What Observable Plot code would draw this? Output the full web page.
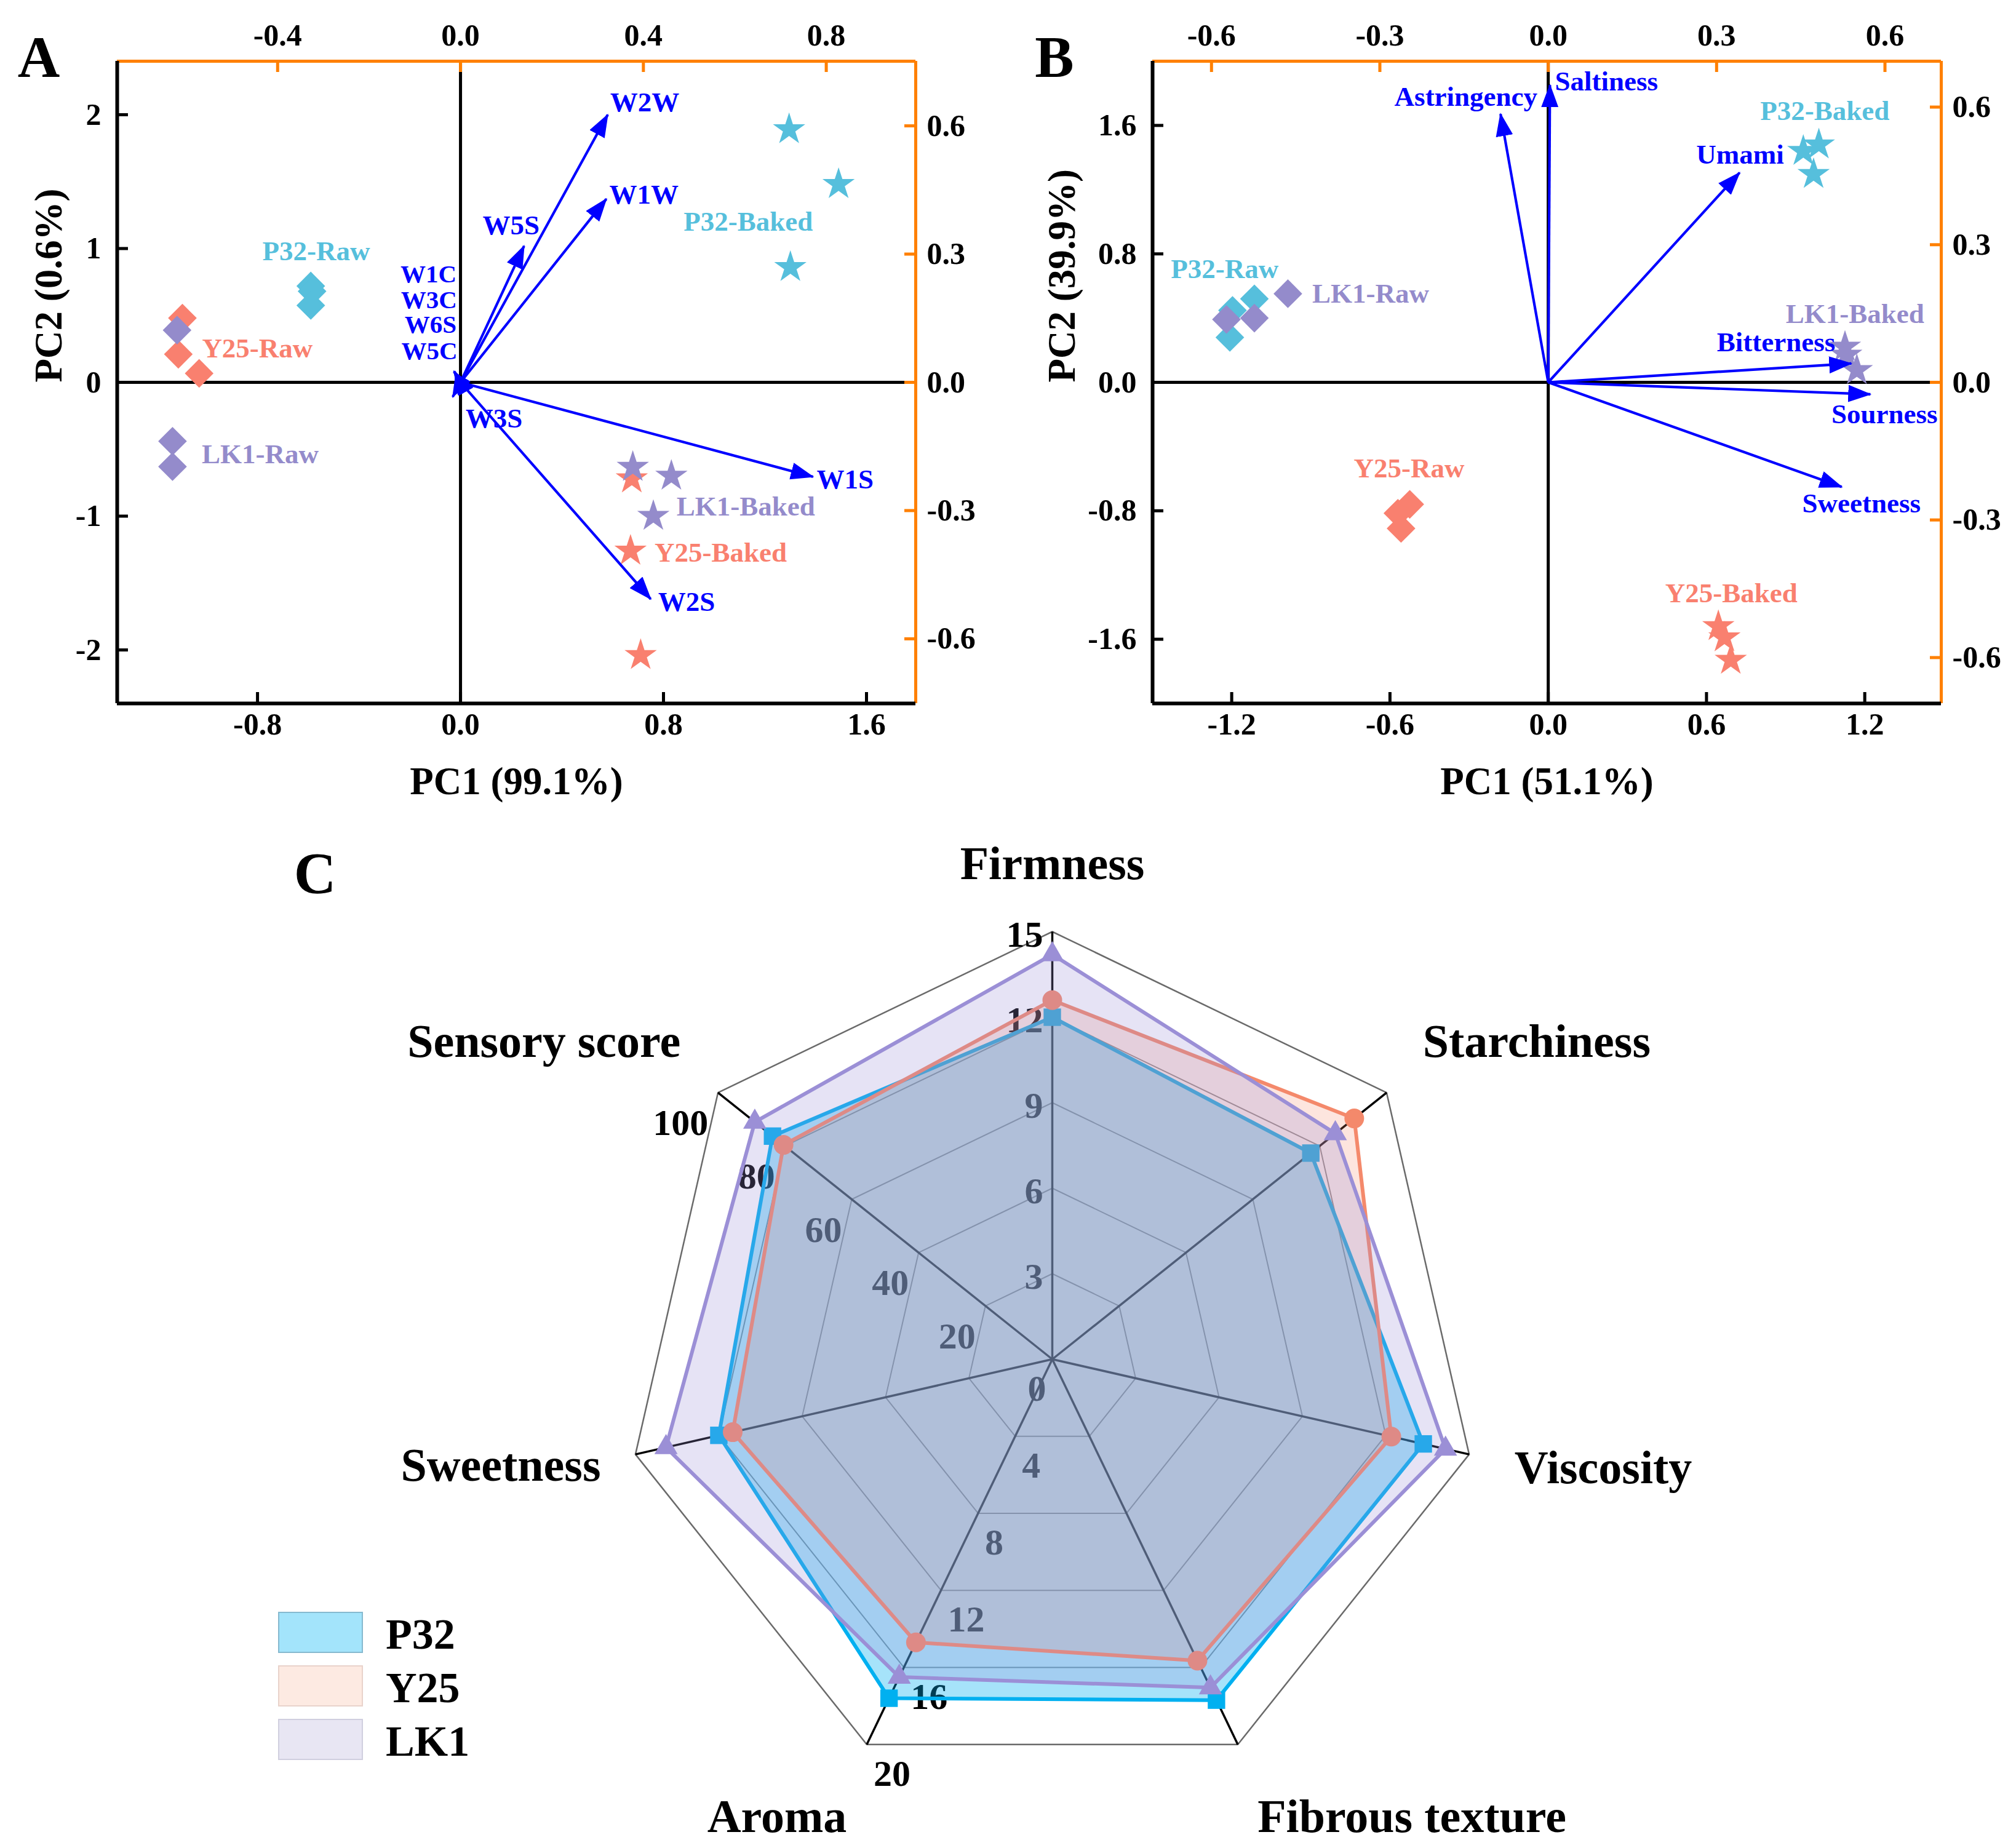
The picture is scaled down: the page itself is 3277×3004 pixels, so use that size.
<!DOCTYPE html>
<html>
<head>
<meta charset="utf-8">
<script src="https://cdn.jsdelivr.net/npm/d3@7"></script>
<script src="https://cdn.jsdelivr.net/npm/@observablehq/plot@0.6"></script>
<style>
  html, body { margin: 0; padding: 0; background: #fff; }
  #fig { position: relative; width: 3277px; height: 3004px; overflow: hidden;
         font-family: "Liberation Serif", "Times New Roman", serif; font-weight: bold; color: #000; }
  .panel { position: absolute; }
  .panel svg { max-width: none !important; background: transparent !important; overflow: visible; }
  .letter { position: absolute; width: 200px; text-align: center; font-size: 95px; line-height: 1; }
  .lgbox { position: absolute; width: 134px; height: 63px; border: 2px solid; }
  .lgtext { position: absolute; font-size: 70px; line-height: 1; }
</style>
</head>
<body>
<div id="fig"></div>
<script>
// ===================== DATA =====================
// Panel A – E-nose PCA scores (PC1, PC2)
const aSample = ["P32-Raw","P32-Raw","P32-Raw","Y25-Raw","Y25-Raw","Y25-Raw","LK1-Raw","LK1-Raw","LK1-Raw",
                 "P32-Baked","P32-Baked","P32-Baked","Y25-Baked","Y25-Baked","Y25-Baked","LK1-Baked","LK1-Baked","LK1-Baked"];
const aPC1 = [-0.59,-0.585,-0.59, -1.096,-1.112,-1.03, -1.117,-1.135,-1.135,
              1.295,1.49,1.30, 0.675,0.67,0.71, 0.679,0.831,0.76];
const aPC2 = [0.72,0.68,0.575, 0.48,0.21,0.067, 0.39,-0.44,-0.63,
              1.89,1.48,0.86, -0.72,-1.26,-2.04, -0.634,-0.70,-1.0];
// Panel A – sensor loadings (top / right axis units)
const aSensor = ["W1C","W3C","W6S","W5C","W3S","W5S","W1W","W2W","W1S","W2S"];
const aLoad1  = [-0.014,-0.013,-0.014,-0.012,-0.017,0.139,0.319,0.322,0.771,0.416];
const aLoad2  = [0.025,0.024,0.026,0.023,-0.034,0.319,0.429,0.626,-0.221,-0.507];
const aXTicks = [-0.8, 0, 0.8, 1.6];
const aYTicks = [-2, -1, 0, 1, 2];
const aTopTicks = [-0.4, 0, 0.4, 0.8];
const aRightTicks = [-0.6, -0.3, 0, 0.3, 0.6];

// Panel B – E-tongue PCA scores
const bSample = ["P32-Raw","P32-Raw","P32-Raw","Y25-Raw","Y25-Raw","Y25-Raw","LK1-Raw","LK1-Raw","LK1-Raw",
                 "P32-Baked","P32-Baked","P32-Baked","Y25-Baked","Y25-Baked","Y25-Baked","LK1-Baked","LK1-Baked","LK1-Baked"];
const bPC1 = [-1.114,-1.197,-1.207, -0.525,-0.57,-0.558, -1.22,-1.114,-0.987,
              0.967,1.026,1.006, 0.645,0.668,0.692, 1.125,1.13,1.17];
const bPC2 = [0.52,0.448,0.28, -0.76,-0.815,-0.91, 0.392,0.40,0.552,
              1.44,1.48,1.296, -1.52,-1.59,-1.73, 0.22,0.17,0.075];
const bTaste = ["Saltiness","Astringency","Umami","Bitterness","Sourness","Sweetness"];
const bLoad1 = [0.003,-0.085,0.341,0.540,0.574,0.523];
const bLoad2 = [0.648,0.585,0.457,0.041,-0.026,-0.228];
const bXTicks = [-1.2, -0.6, 0, 0.6, 1.2];
const bYTicks = [-1.6, -0.8, 0, 0.8, 1.6];
const bTopTicks = [-0.6, -0.3, 0, 0.3, 0.6];
const bRightTicks = [-0.6, -0.3, 0, 0.3, 0.6];

// Panel C – sensory radar
const cAxes = ["Firmness","Starchiness","Viscosity","Fibrous texture","Aroma","Sweetness","Sensory score"];
const cAxisMax = [15, 15, 15, 20, 20, 15, 100];
const cSeries = ["P32","Y25","LK1"];
const cP32 = [12.0, 11.6, 13.35, 17.7, 17.6, 12.0, 83.7];
const cY25 = [12.6, 13.55, 12.2, 15.65, 14.7, 11.5, 80.4];
const cLK1 = [14.2, 12.7, 14.15, 17.05, 16.5, 13.9, 89.0];
const cFirmTicks = [3, 6, 9, 12, 15];
const cAromaTicks = [4, 8, 12, 16, 20];
const cSensoryTicks = [20, 40, 60, 80, 100];
const cRings = [0.2, 0.4, 0.6, 0.8, 1.0];

// ===================== STYLE / LAYOUT =====================
const ORANGE = "#ff8000", BLUE = "#0000ff";
const cultColor = {P32: "#56bfdc", Y25: "#f9806f", LK1: "#948bcb"};
const seriesStyle = {
  P32: {color: "#00b0f0", op: 0.35, symbol: "square", r: 16},
  Y25: {color: "#f4896b", op: 0.22, symbol: "circle", r: 16},
  LK1: {color: "#9b8fd6", op: 0.25, symbol: "triangle", r: 14}
};
const FONT = "'Liberation Serif', 'Times New Roman', serif";
const fmt1 = v => (v < 0 ? "-" : "") + Math.abs(v).toFixed(1);
const fmt0 = v => (v < 0 ? "-" : "") + Math.abs(v).toFixed(0);

// label offsets (px) relative to group centroid / arrow tip: [dx, dy, anchor, fontSize]
const aGroupLabel = {
  "P32-Raw": [8, -70, "middle"], "Y25-Raw": [25, 0, "start"], "LK1-Raw": [45, 68, "start"],
  "P32-Baked": [-94, 46, "middle"], "LK1-Baked": [39, 33, "start"], "Y25-Baked": [33, -14, "start"]
};
const aArrowLabel = {
  W1C: [4, -158, "end", 41], W3C: [4, -117, "end", 41], W6S: [4, -76, "end", 41], W5C: [4, -35, "end", 41],
  W3S: [67, 35, "middle"], W5S: [-21, -33, "middle"], W1W: [5, -7, "start"], W2W: [4, -20, "start"],
  W1S: [6, 5, "start"], W2S: [12, 5, "start"]
};
const bGroupLabel = {
  "P32-Raw": [-23, -75, "middle"], "LK1-Raw": [91, -27, "start"], "Y25-Raw": [10, -76, "middle"],
  "P32-Baked": [21, -74, "middle"], "LK1-Baked": [9, -70, "middle"], "Y25-Baked": [11, -78, "middle"]
};
const bArrowLabel = {
  Saltiness: [8, -6, "start"], Astringency: [60, -28, "end"], Umami: [72, -29, "end"],
  Bitterness: [-26, -34, "end"], Sourness: [23, 33, "middle"], Sweetness: [32, 27, "middle"]
};

const fig = document.getElementById("fig");

function addHeads(svg, id) {
  const s = d3.select(svg);
  const defs = s.insert("defs", ":first-child");
  defs.append("marker").attr("id", id)
    .attr("viewBox", "0 0 38 28").attr("refX", 36).attr("refY", 14)
    .attr("markerWidth", 38).attr("markerHeight", 28)
    .attr("markerUnits", "userSpaceOnUse").attr("orient", "auto")
    .append("path").attr("d", "M0,0L38,14L0,28Z").attr("fill", BLUE);
  s.selectAll('g[aria-label="link"] path').attr("marker-end", `url(#${id})`);
}

function pcaPanel(o) {
  const pw = o.width - o.ml - o.mr, ph = o.height - o.mt - o.mb;
  const ux = (o.xDom[1] - o.xDom[0]) / pw, uy = (o.yDom[1] - o.yDom[0]) / ph;
  const T = 18;
  const rows = o.sample.map((s, i) => ({sample: s, cult: s.split("-")[0], state: s.split("-")[1], x: o.pc1[i], y: o.pc2[i]}));
  const arrows = o.vars.map((v, i) => ({v, x: o.load1[i] / o.kx, y: o.load2[i] / o.ky}));
  const groups = d3.groups(rows, d => d.sample).map(([s, g]) => ({s, cult: g[0].cult, x: d3.mean(g, d => d.x), y: d3.mean(g, d => d.y)}));

  const marks = [
    Plot.ruleY([0], {stroke: "#000", strokeWidth: 5}),
    Plot.ruleX([0], {stroke: "#000", strokeWidth: 5}),
    Plot.ruleY([o.yDom[1]], {stroke: ORANGE, strokeWidth: 5}),
    Plot.ruleX([o.xDom[1]], {stroke: ORANGE, strokeWidth: 5}),
    Plot.ruleX([o.xDom[0]], {stroke: "#000", strokeWidth: 6}),
    Plot.ruleY([o.yDom[0]], {stroke: "#000", strokeWidth: 6}),
    Plot.ruleX(o.xTicks, {x: d => d, y1: () => o.yDom[0], y2: () => o.yDom[0] + T * uy, stroke: "#000", strokeWidth: 5}),
    Plot.ruleY(o.yTicks, {y: d => d, x1: () => o.xDom[0], x2: () => o.xDom[0] + T * ux, stroke: "#000", strokeWidth: 5}),
    Plot.ruleX(o.topTicks, {x: d => d / o.kx, y1: () => o.yDom[1], y2: () => o.yDom[1] - T * uy, stroke: ORANGE, strokeWidth: 5}),
    Plot.ruleY(o.rightTicks, {y: d => d / o.ky, x1: () => o.xDom[1], x2: () => o.xDom[1] - T * ux, stroke: ORANGE, strokeWidth: 5}),
    Plot.text(o.xTicks, {x: d => d, text: d => fmt1(d), frameAnchor: "bottom", dy: 50, fontSize: 50, fill: "#000"}),
    Plot.text(o.yTicks, {y: d => d, text: d => o.yFmt(d), frameAnchor: "left", textAnchor: "end", dx: -26, fontSize: 50, fill: "#000"}),
    Plot.text(o.topTicks, {x: d => d / o.kx, text: d => fmt1(d), frameAnchor: "top", dy: -61, fontSize: 50, fill: "#000"}),
    Plot.text(o.rightTicks, {y: d => d / o.ky, text: d => fmt1(d), frameAnchor: "right", textAnchor: "start", dx: 18, fontSize: 50, fill: "#000"}),
    Plot.text([o.xTitle], {frameAnchor: "bottom", dy: 147, fontSize: 63, fill: "#000"}),
    Plot.text([o.yTitle], {frameAnchor: "left", dx: o.yTitleDx, rotate: -90, fontSize: 63, fill: "#000"}),
    Plot.dot(rows.filter(d => d.state === "Raw"), {x: "x", y: "y", symbol: "diamond2", r: 21, fill: d => cultColor[d.cult]}),
    Plot.dot(rows.filter(d => d.state === "Baked"), {x: "x", y: "y", symbol: "star", r: 16.5, fill: d => cultColor[d.cult]}),
    Plot.link(arrows, {x1: () => 0, y1: () => 0, x2: "x", y2: "y", stroke: BLUE, strokeWidth: 4.2})
  ];
  for (const g of groups) {
    const [dx, dy, anchor] = o.groupLabel[g.s];
    marks.push(Plot.text([g], {x: "x", y: "y", text: "s", dx, dy, textAnchor: anchor, fontSize: 45, fill: cultColor[g.cult]}));
  }
  for (const a of arrows) {
    const [dx, dy, anchor, fs] = o.arrowLabel[a.v];
    marks.push(Plot.text([a], {x: "x", y: "y", text: "v", dx, dy, textAnchor: anchor, fontSize: fs || 45, fill: BLUE}));
  }
  const svg = Plot.plot({
    width: o.width, height: o.height,
    marginLeft: o.ml, marginRight: o.mr, marginTop: o.mt, marginBottom: o.mb,
    x: {domain: o.xDom, axis: null}, y: {domain: o.yDom, axis: null},
    color: {type: "identity"},
    style: {fontFamily: FONT, fontWeight: "bold", background: "transparent", overflow: "visible"},
    marks
  });
  addHeads(svg, o.id);
  const div = document.createElement("div");
  div.className = "panel";
  div.style.left = o.left + "px"; div.style.top = o.top + "px";
  div.style.width = o.width + "px"; div.style.height = o.height + "px";
  div.appendChild(svg);
  fig.appendChild(div);
}

pcaPanel({
  id: "headA", left: 0, top: 0, width: 1640, height: 1340, ml: 190, mr: 152, mt: 99, mb: 197,
  xDom: [-1.353, 1.794], yDom: [-2.4, 2.4], kx: 0.555, ky: 0.313,
  sample: aSample, pc1: aPC1, pc2: aPC2, vars: aSensor, load1: aLoad1, load2: aLoad2,
  xTicks: aXTicks, yTicks: aYTicks, topTicks: aTopTicks, rightTicks: aRightTicks, yFmt: fmt0,
  xTitle: "PC1 (99.1%)", yTitle: "PC2 (0.6%)", yTitleDx: -111,
  groupLabel: aGroupLabel, arrowLabel: aArrowLabel
});

pcaPanel({
  id: "headB", left: 1660, top: 0, width: 1617, height: 1340, ml: 213, mr: 122, mt: 99, mb: 197,
  xDom: [-1.5, 1.49], yDom: [-2.0, 2.0], kx: 0.47, ky: 0.35,
  sample: bSample, pc1: bPC1, pc2: bPC2, vars: bTaste, load1: bLoad1, load2: bLoad2,
  xTicks: bXTicks, yTicks: bYTicks, topTicks: bTopTicks, rightTicks: bRightTicks, yFmt: fmt1,
  xTitle: "PC1 (51.1%)", yTitle: "PC2 (39.9%)", yTitleDx: -147,
  groupLabel: bGroupLabel, arrowLabel: bArrowLabel
});

// ===================== PANEL C (radar) =====================
(function () {
  const R = 695, CW = 3277, CH = 1664, cx0 = 1710, cy0 = 2209 - 1340;
  const xDom = [-cx0 / R, (CW - cx0) / R], yDom = [-(CH - cy0) / R, cy0 / R];
  const n = cAxes.length;
  const ang = i => i * 2 * Math.PI / n;
  const pt = (i, f) => ({x: f * Math.sin(ang(i)), y: f * Math.cos(ang(i))});
  const rings = cRings.flatMap(f => cAxes.map((a, i) => ({f, ...pt(i, f)})));
  const spokes = cAxes.map((a, i) => ({a, ...pt(i, 1)}));
  const values = {P32: cP32, Y25: cY25, LK1: cLK1};
  const labelOff = {
    "Firmness": [0, -110], "Starchiness": [244, -83], "Viscosity": [218, 23], "Fibrous texture": [283, 118],
    "Aroma": [-146, 118], "Sweetness": [-219, 19], "Sensory score": [-283, -83]
  };
  const marks = [
    Plot.line(rings.filter(d => d.f < 1), {x: "x", y: "y", z: "f", curve: "linear-closed", stroke: "#8a8a8a", strokeWidth: 2}),
    Plot.line(rings.filter(d => d.f === 1), {x: "x", y: "y", curve: "linear-closed", stroke: "#6a6a6a", strokeWidth: 2.5}),
    Plot.link(spokes, {x1: () => 0, y1: () => 0, x2: "x", y2: "y", stroke: "#000", strokeWidth: 3.5}),
    Plot.text(cFirmTicks, {x: v => pt(0, v / cAxisMax[0]).x, y: v => pt(0, v / cAxisMax[0]).y, text: d => String(d), textAnchor: "end", dx: -15, dy: 5, fontSize: 60, fill: "#000"}),
    Plot.text(cAromaTicks, {x: v => pt(4, v / cAxisMax[4]).x, y: v => pt(4, v / cAxisMax[4]).y, text: d => String(d), textAnchor: "start", dx: 11, dy: 48, fontSize: 60, fill: "#000"}),
    Plot.text(cSensoryTicks, {x: v => pt(6, v / cAxisMax[6]).x, y: v => pt(6, v / cAxisMax[6]).y, text: d => String(d), textAnchor: "end", dx: -16, dy: 50, fontSize: 60, fill: "#000"}),
    Plot.text([0], {x: () => 0, y: () => 0, text: d => String(d), dx: -25, dy: 48, fontSize: 60, fill: "#000"})
  ];
  for (const s of cSeries) {
    const st = seriesStyle[s];
    const pts = cAxes.map((a, i) => ({s, ...pt(i, values[s][i] / cAxisMax[i])}));
    marks.push(Plot.line(pts, {x: "x", y: "y", curve: "linear-closed", fill: st.color, fillOpacity: st.op, stroke: st.color, strokeWidth: 6}));
    marks.push(Plot.dot(pts, {x: "x", y: "y", symbol: st.symbol, r: st.r, fill: st.color}));
  }
  marks.push(Plot.text(spokes, {
    x: d => d.x + labelOff[d.a][0] / R, y: d => d.y - labelOff[d.a][1] / R,
    text: "a", fontSize: 76, fill: "#000"
  }));
  const svg = Plot.plot({
    width: CW, height: CH, margin: 0,
    x: {domain: xDom, axis: null}, y: {domain: yDom, axis: null},
    style: {fontFamily: FONT, fontWeight: "bold", background: "transparent", overflow: "visible"},
    marks
  });
  const div = document.createElement("div");
  div.className = "panel";
  div.style.left = "0px"; div.style.top = "1340px";
  div.style.width = CW + "px"; div.style.height = CH + "px";
  div.appendChild(svg);
  fig.appendChild(div);
})();

// ===================== LETTERS & LEGEND =====================
const letters = [["A", 63, 94], ["B", 1714, 94], ["C", 512, 1421]];
for (const [t, x, y] of letters) {
  const d = document.createElement("div");
  d.className = "letter"; d.textContent = t;
  d.style.left = (x - 100) + "px"; d.style.top = (y - 48) + "px";
  fig.appendChild(d);
}
const legendFill = {P32: ["#a3e4fb", "#86b9cf"], Y25: ["#fdeae2", "#e9d3cb"], LK1: ["#e8e6f3", "#d0cfdf"]};
cSeries.forEach((s, i) => {
  const top = 2620 + i * 87;
  const b = document.createElement("div");
  b.className = "lgbox";
  b.style.left = "452px"; b.style.top = top + "px";
  b.style.background = legendFill[s][0]; b.style.borderColor = legendFill[s][1];
  fig.appendChild(b);
  const t = document.createElement("div");
  t.className = "lgtext"; t.textContent = s;
  t.style.left = "627px"; t.style.top = (top + 2) + "px";
  fig.appendChild(t);
});
</script>
</body>
</html>
